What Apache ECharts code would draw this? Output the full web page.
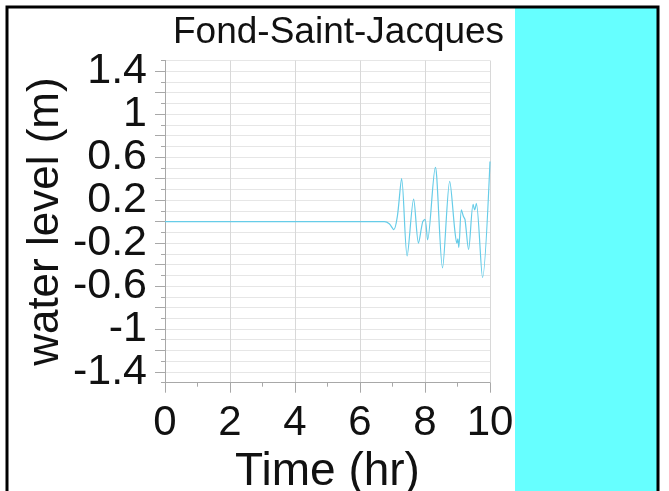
<!DOCTYPE html>
<html>
<head>
<meta charset="utf-8">
<script src="https://cdn.jsdelivr.net/npm/echarts@6/dist/echarts.min.js"></script>
<style>
  html, body { margin: 0; padding: 0; background: #fff; }
  #main { width: 669px; height: 491px; }
</style>
</head>
<body>
<div id="main"></div>
<script>
// 水位时间序列 (hr, m)
const timeHr = [0, 6.75, 6.9, 7.04, 7.15, 7.28, 7.45, 7.65, 7.8, 7.93, 8.0, 8.08, 8.32, 8.36, 8.54, 8.76, 8.92, 8.98, 9.01, 9.04, 9.12, 9.18, 9.23, 9.34, 9.48, 9.53, 9.58, 9.77, 10.0]
const waterLevel = [0, 0, -0.02, -0.075, 0.05, 0.40, -0.32, 0.21, -0.2, 0.0, 0.02, -0.17, 0.505, 0.42, -0.43, 0.375, -0.09, -0.2, -0.16, -0.24, 0.11, 0.05, 0.02, -0.26, 0.16, 0.11, 0.17, -0.52, 0.56]
// 刻度
const yLabelValues = [-1.4, -1, -0.6, -0.2, 0.2, 0.6, 1, 1.4]
const yMajorTicks = [-1.4, -1.2, -1, -0.8, -0.6, -0.4, -0.2, 0, 0.2, 0.4, 0.6, 0.8, 1, 1.2, 1.4]

const series = timeHr.map((t, i) => [t, waterLevel[i]])
const font = "'Liberation Sans', Arial, sans-serif"

var chart = echarts.init(document.getElementById('main'))
var option = {
    animation: false,
    title: {
        text: 'Fond-Saint-Jacques',
        left: 168,
        top: 9,
        textStyle: { fontFamily: font, fontSize: 37, fontWeight: 'normal', color: '#111' }
    },
    grid: { left: 165, right: 179, top: 60.5, bottom: 108.3, outerBoundsMode: 'none' },
    xAxis: {
        type: 'value',
        min: 0,
        max: 10,
        interval: 2,
        name: 'Time (hr)',
        nameLocation: 'middle',
        nameGap: 62,
        nameTextStyle: { fontFamily: font, fontSize: 46, color: '#111' },
        axisLine: { onZero: false, lineStyle: { color: '#a8a8a8', width: 1 } },
        axisTick: { length: 10, lineStyle: { color: '#a8a8a8' } },
        minorTick: { show: true, splitNumber: 2, length: 4, lineStyle: { color: '#a8a8a8' } },
        axisLabel: { fontFamily: font, fontSize: 42, color: '#111', margin: 20 },
        splitLine: { show: true, lineStyle: { color: '#d8d8d8', width: 1 } }
    },
    yAxis: [{
        type: 'value',
        min: -1.5,
        max: 1.5,
        interval: 0.1,
        name: 'water level (m)',
        nameLocation: 'middle',
        nameGap: 97,
        nameTextStyle: { fontFamily: font, fontSize: 44, color: '#111' },
        axisLine: { show: true, onZero: false, lineStyle: { color: '#a8a8a8', width: 1 } },
        axisTick: { show: true, length: 4, lineStyle: { color: '#a8a8a8' } },
        axisLabel: { customValues: yLabelValues, fontFamily: font, fontSize: 43, color: '#111', margin: 18 },
        splitLine: { show: true, lineStyle: { color: '#e6e6e6', width: 1 } }
    }, {
        // 主刻度 (较长)
        type: 'value',
        min: -1.5,
        max: 1.5,
        position: 'left',
        axisLine: { show: true, onZero: false, lineStyle: { color: '#a8a8a8', width: 1 } },
        axisTick: { show: true, customValues: yMajorTicks, length: 10, lineStyle: { color: '#a8a8a8' } },
        axisLabel: { show: false },
        splitLine: { show: false }
    }],
    graphic: [{
        type: 'rect',
        shape: { x: 515, y: 8, width: 142, height: 490 },
        style: { fill: '#66ffff' },
        z: 10
    }, {
        type: 'rect',
        shape: { x: 7, y: 7, width: 651, height: 500 },
        style: { fill: null, stroke: '#000', lineWidth: 3 },
        z: 11
    }],
    series: [{
        type: 'line',
        data: series,
        yAxisIndex: 0,
        symbol: 'none',
        smooth: 0.3,
        lineStyle: { color: '#66cce8', width: 1.2 }
    }]
}
chart.setOption(option)
</script>
</body>
</html>
